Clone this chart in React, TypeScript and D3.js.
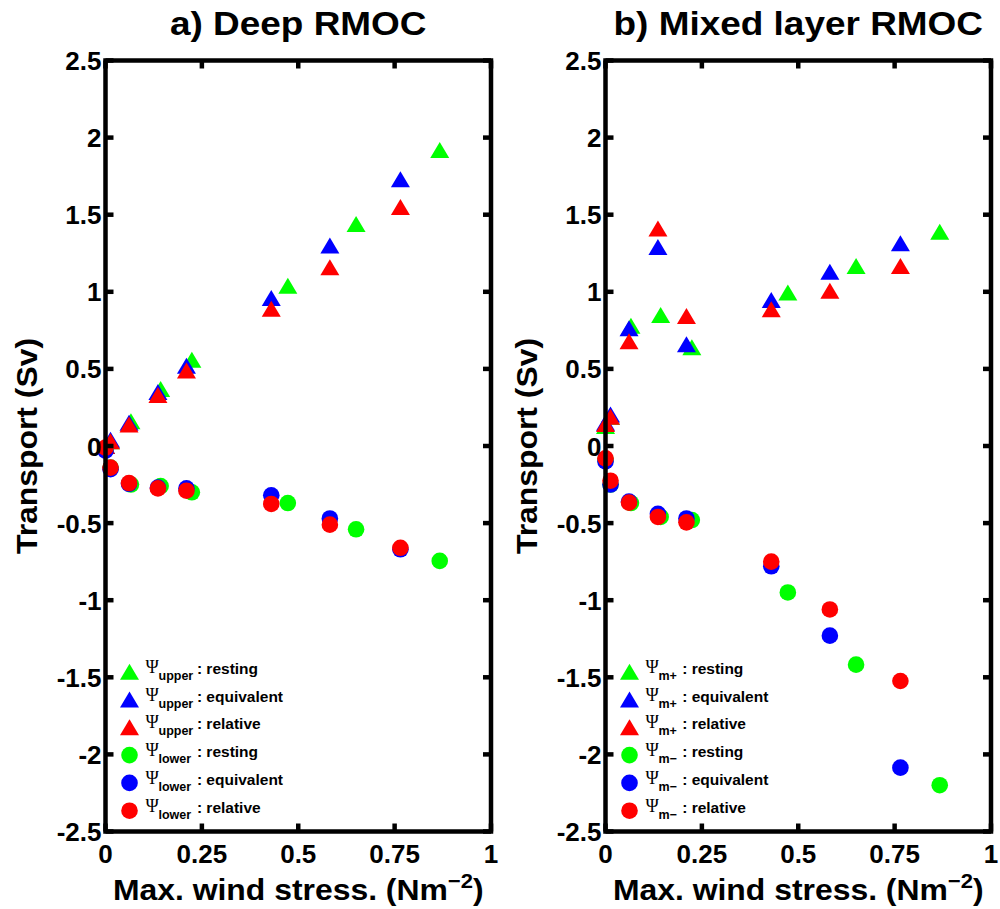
import React from "react";
import * as d3 from "d3";

// Wind-stress values of the experiments
const X_REST = [0, 0.013, 0.066, 0.143, 0.224, 0.473, 0.65, 0.867];
const X_EXP = [0, 0.013, 0.061, 0.136, 0.21, 0.43, 0.582, 0.765];

// a) Deep RMOC
const deepUpperResting = [0.0, 0.03, 0.16, 0.37, 0.56, 1.04, 1.44, 1.92];
const deepUpperEquivalent = [0.0, 0.04, 0.15, 0.35, 0.52, 0.96, 1.3, 1.73];
const deepUpperRelative = [0.0, 0.03, 0.14, 0.33, 0.49, 0.89, 1.16, 1.55];
const deepLowerResting = [-0.02, -0.14, -0.25, -0.26, -0.3, -0.37, -0.54, -0.745];
const deepLowerEquivalent = [-0.03, -0.15, -0.245, -0.27, -0.275, -0.32, -0.47, -0.67];
const deepLowerRelative = [-0.01, -0.14, -0.24, -0.275, -0.29, -0.376, -0.51, -0.66];

// b) Mixed layer RMOC
const mixPlusResting = [0.13, 0.19, 0.78, 0.85, 0.64, 0.995, 1.167, 1.39];
const mixPlusEquivalent = [0.15, 0.205, 0.763, 1.29, 0.66, 0.947, 1.13, 1.315];
const mixPlusRelative = [0.143, 0.19, 0.68, 1.41, 0.843, 0.887, 1.007, 1.167];
const mixMinusResting = [-0.09, -0.25, -0.37, -0.46, -0.48, -0.95, -1.418, -2.2];
const mixMinusEquivalent = [-0.1, -0.25, -0.36, -0.44, -0.47, -0.78, -1.23, -2.086];
const mixMinusRelative = [-0.08, -0.225, -0.367, -0.46, -0.495, -0.75, -1.06, -1.524];

const X_TICKS = [0, 0.25, 0.5, 0.75, 1];
const X_TICK_LABELS = ["0", "0.25", "0.5", "0.75", "1"];
const Y_TICKS = [-2.5, -2, -1.5, -1, -0.5, 0, 0.5, 1, 1.5, 2, 2.5];
const Y_TICK_LABELS = ["-2.5", "-2", "-1.5", "-1", "-0.5", "0", "0.5", "1", "1.5", "2", "2.5"];

const GREEN = "#00ff00";
const BLUE = "#0000ff";
const RED = "#ff0000";
const FONT = "'Liberation Sans', Arial, Helvetica, sans-serif";

type Series = { xs: number[]; ys: number[]; color: string; shape: "tri" | "circ"; sub: string; label: string };

const panels = [
  {
    title: "a) Deep RMOC",
    left: 105.5,
    series: [
      { xs: X_REST, ys: deepUpperResting, color: GREEN, shape: "tri", sub: "upper", label: ": resting" },
      { xs: X_EXP, ys: deepUpperEquivalent, color: BLUE, shape: "tri", sub: "upper", label: ": equivalent" },
      { xs: X_EXP, ys: deepUpperRelative, color: RED, shape: "tri", sub: "upper", label: ": relative" },
      { xs: X_REST, ys: deepLowerResting, color: GREEN, shape: "circ", sub: "lower", label: ": resting" },
      { xs: X_EXP, ys: deepLowerEquivalent, color: BLUE, shape: "circ", sub: "lower", label: ": equivalent" },
      { xs: X_EXP, ys: deepLowerRelative, color: RED, shape: "circ", sub: "lower", label: ": relative" },
    ] as Series[],
    labelOffset: 67.4,
  },
  {
    title: "b) Mixed layer RMOC",
    left: 605.5,
    series: [
      { xs: X_REST, ys: mixPlusResting, color: GREEN, shape: "tri", sub: "m+", label: ": resting" },
      { xs: X_EXP, ys: mixPlusEquivalent, color: BLUE, shape: "tri", sub: "m+", label: ": equivalent" },
      { xs: X_EXP, ys: mixPlusRelative, color: RED, shape: "tri", sub: "m+", label: ": relative" },
      { xs: X_REST, ys: mixMinusResting, color: GREEN, shape: "circ", sub: "m\u2212", label: ": resting" },
      { xs: X_EXP, ys: mixMinusEquivalent, color: BLUE, shape: "circ", sub: "m\u2212", label: ": equivalent" },
      { xs: X_EXP, ys: mixMinusRelative, color: RED, shape: "circ", sub: "m\u2212", label: ": relative" },
    ] as Series[],
    labelOffset: 52.7,
  },
];

const TW = 19;
const TH = 16;
const R = 8.3;
const triPath = `M0,${-TH / 2}L${TW / 2},${TH / 2}L${-TW / 2},${TH / 2}Z`;
const SX = 1.1; // horizontal stretch of the reference's Helvetica

function Marker({ shape, color, cx, cy }: { shape: string; color: string; cx: number; cy: number }) {
  if (shape === "tri") return <path d={triPath} transform={`translate(${cx},${cy})`} fill={color} />;
  return <circle cx={cx} cy={cy} r={R} fill={color} />;
}

function Panel({ p }: { p: (typeof panels)[number] }) {
  const W = 385.5;
  const x = d3.scaleLinear().domain([0, 1]).range([p.left, p.left + W]);
  const y = d3.scaleLinear().domain([-2.5, 2.5]).range([831.5, 60.5]);
  const [x0, x1] = x.range();
  const [yb, yt] = y.range();
  const lw = 4.5;
  const tl = 8;
  const cx = (x0 + x1) / 2;
  const legX = p.left + 24;
  const legY0 = 671.7;
  const legDY = 27.8;
  return (
    <g>
      <text
        transform={`translate(${cx},35) scale(1.12,1)`}
        textAnchor="middle"
        fontFamily={FONT}
        fontWeight="bold"
        fontSize={33}
      >
        {p.title}
      </text>
      {/* markers */}
      {p.series.map((s, si) => (
        <g key={si}>
          {s.ys.map((v, i) => (
            <Marker key={i} shape={s.shape} color={s.color} cx={x(s.xs[i])} cy={y(v)} />
          ))}
        </g>
      ))}
      {/* legend */}
      {p.series.map((s, i) => {
        const ly = legY0 + i * legDY;
        return (
          <g key={"l" + i}>
            <Marker shape={s.shape} color={s.color} cx={legX} cy={ly} />
            <text x={legX + 16} y={ly + 1} fontFamily="'Liberation Serif', 'DejaVu Serif', serif" fontSize={18}>
              Ψ
            </text>
            <text x={legX + 29} y={ly + 8} fontFamily={FONT} fontWeight="bold" fontSize={12.5}>
              {s.sub}
            </text>
            <text x={legX + p.labelOffset} y={ly + 2} fontFamily={FONT} fontWeight="bold" fontSize={15.5}>
              {s.label}
            </text>
          </g>
        );
      })}
      {/* box */}
      <rect x={x0} y={yt} width={x1 - x0} height={yb - yt} fill="none" stroke="#000" strokeWidth={lw} />
      {Y_TICKS.map((t, i) => (
        <g key={"yt" + i}>
          <line x1={x0} x2={x0 + tl} y1={y(t)} y2={y(t)} stroke="#000" strokeWidth={lw} />
          <line x1={x1} x2={x1 - tl} y1={y(t)} y2={y(t)} stroke="#000" strokeWidth={lw} />
          <text x={x0 - 4} y={y(t) + 9.5} textAnchor="end" fontFamily={FONT} fontWeight="bold" fontSize={26}>
            {Y_TICK_LABELS[i]}
          </text>
        </g>
      ))}
      {X_TICKS.map((t, i) => (
        <g key={"xt" + i}>
          <line x1={x(t)} x2={x(t)} y1={yb} y2={yb - tl} stroke="#000" strokeWidth={lw} />
          <line x1={x(t)} x2={x(t)} y1={yt} y2={yt + tl} stroke="#000" strokeWidth={lw} />
          <text x={x(t)} y={862.7} textAnchor="middle" fontFamily={FONT} fontWeight="bold" fontSize={26}>
            {X_TICK_LABELS[i]}
          </text>
        </g>
      ))}
      {/* axis labels */}
      <text
        transform={`translate(${p.left - 69},${y(0)}) rotate(-90) scale(${SX},1)`}
        textAnchor="middle"
        fontFamily={FONT}
        fontWeight="bold"
        fontSize={29}
      >
        Transport (Sv)
      </text>
      <text
        transform={`translate(${cx},900) scale(${SX},1)`}
        textAnchor="middle"
        fontFamily={FONT}
        fontWeight="bold"
        fontSize={29}
      >
        Max. wind stress. (Nm
        <tspan fontSize={20} dy={-12}>
          −2
        </tspan>
        <tspan dy={12}>)</tspan>
      </text>
    </g>
  );
}

export default function App() {
  return (
    <svg
      width={1000}
      height={909}
      style={{ position: "absolute", left: 0, top: 0, background: "#fff" }}
      xmlns="http://www.w3.org/2000/svg"
    >
      <rect width={1000} height={909} fill="#fff" />
      {panels.map((p, i) => (
        <Panel key={i} p={p} />
      ))}
    </svg>
  );
}
